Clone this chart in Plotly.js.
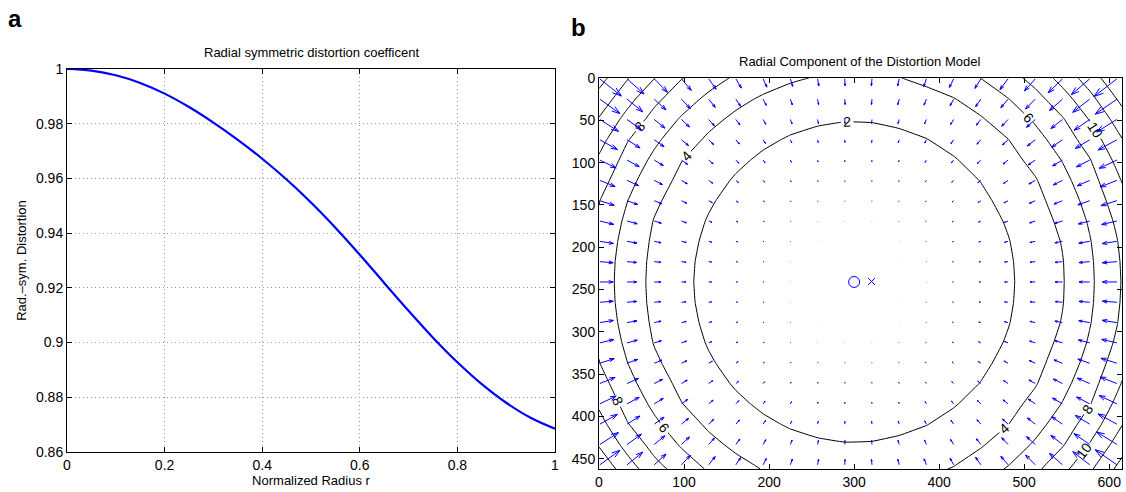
<!DOCTYPE html>
<html><head><meta charset="utf-8">
<script src="https://cdn.plot.ly/plotly-3.0.1.min.js"></script>
<style>html,body{margin:0;padding:0;background:#fff}#chart{width:1126px;height:492px}</style>
</head><body><div id="chart"></div>
<script>
// ---------- panel a data ----------
const radiusNorm = [0, 0.05, 0.1, 0.15, 0.2, 0.25, 0.3, 0.35, 0.4, 0.45, 0.5, 0.55, 0.6, 0.65, 0.7, 0.75, 0.8, 0.85, 0.9, 0.95, 1];
const distCoeff  = [1, 0.9994, 0.9977, 0.9949, 0.9910, 0.9861, 0.9804, 0.9741, 0.9672, 0.9596, 0.9512, 0.9420, 0.9321, 0.9218, 0.9116, 0.9018, 0.8928, 0.8848, 0.8780, 0.8725, 0.8685];
const xTicksA = [0, 0.2, 0.4, 0.6, 0.8, 1];
const yTicksA = [0.86, 0.88, 0.9, 0.92, 0.94, 0.96, 0.98, 1];

// ---------- panel b data ----------
const gridX = [1, 33, 65, 97, 129, 161, 193, 225, 257, 289, 321, 353, 385, 417, 449, 481, 513, 545, 577, 609];
const gridY = [1, 25, 49, 73, 97, 121, 145, 169, 193, 217, 241, 265, 289, 313, 337, 361, 385, 409, 433, 457];
const contourX = [0].concat(gridX, [615]);
const contourY = [0].concat(gridY, [462]);
// radial distortion (pixels) versus distance from the principal point (pixels)
const profileRadius = [0, 50, 100, 150, 190, 220, 248, 283, 314, 336, 358, 377, 400];
const profileShift  = [0, 0.04, 0.3, 0.95, 2, 2.95, 4, 6, 8, 10, 12, 14, 16.3];
const principalPoint = [300, 241];
const imageCenter = [320.5, 240.5];
const contourLevels = {start: 2, end: 14, size: 2};
const xTicksB = [0, 100, 200, 300, 400, 500, 600];
const yTicksB = [0, 50, 100, 150, 200, 250, 300, 350, 400, 450];

function shiftAt(r) {
  for (let i = 1; i < profileRadius.length; i++) {
    if (r <= profileRadius[i]) {
      const t = (r - profileRadius[i-1]) / (profileRadius[i] - profileRadius[i-1]);
      return profileShift[i-1] + t * (profileShift[i] - profileShift[i-1]);
    }
  }
  return profileShift[profileShift.length-1];
}

const zGrid = contourY.map(y => contourX.map(x => shiftAt(Math.hypot(x - principalPoint[0], y - principalPoint[1]))));

// quiver (MATLAB-style autoscale and arrow heads)
const vecs = [];
let maxLen = 0;
gridY.forEach(y => gridX.forEach(x => {
  const dx = x - principalPoint[0], dy = y - principalPoint[1];
  const r = Math.hypot(dx, dy) || 1;
  const s = shiftAt(r);
  const u = -dx / r * s, v = -dy / r * s;
  vecs.push([x, y, u, v]);
  maxLen = Math.max(maxLen, Math.hypot(u, v));
}));
const delx = (gridX[gridX.length-1] - gridX[0]) / gridX.length;
const dely = (gridY[gridY.length-1] - gridY[0]) / gridY.length;
const scale = 0.9 * Math.hypot(delx, dely) / maxLen;
const qx = [], qy = [];
const alpha = 0.33, beta = 0.33;
vecs.forEach(([x, y, u0, v0]) => {
  const u = u0 * scale, v = v0 * scale;
  const tx = x + u, ty = y + v;
  qx.push(x, tx, null);
  qy.push(y, ty, null);
  qx.push(tx - alpha * (u + beta * v), tx, tx - alpha * (u - beta * v), null);
  qy.push(ty - alpha * (v - beta * u), ty, ty - alpha * (v + beta * u), null);
});

const FONT = 'Liberation Sans, Arial, Helvetica, sans-serif';

const traces = [
  {type: 'scatter', mode: 'lines', x: radiusNorm, y: distCoeff, xaxis: 'x', yaxis: 'y',
   line: {color: '#0000ff', width: 2.2, shape: 'spline', smoothing: 1}, hoverinfo: 'skip'},
  {type: 'contour', x: contourX, y: contourY, z: zGrid, xaxis: 'x2', yaxis: 'y2',
   autocontour: false, contours: Object.assign({coloring: 'lines', showlabels: true,
     labelfont: {family: FONT, size: 14, color: 'black'}}, contourLevels),
   colorscale: [[0, 'black'], [1, 'black']], showscale: false,
   line: {width: 1, smoothing: 0.3}, hoverinfo: 'skip'},
  {type: 'scatter', mode: 'lines', x: qx, y: qy, xaxis: 'x2', yaxis: 'y2',
   line: {color: '#0000ff', width: 1}, hoverinfo: 'skip', connectgaps: false},
  {type: 'scatter', mode: 'markers', x: [principalPoint[0]], y: [principalPoint[1]], xaxis: 'x2', yaxis: 'y2',
   marker: {symbol: 'circle-open', size: 11, color: '#0000ff', line: {width: 1}}, hoverinfo: 'skip'},
  {type: 'scatter', mode: 'markers', x: [imageCenter[0]], y: [imageCenter[1]], xaxis: 'x2', yaxis: 'y2',
   marker: {symbol: 'x-thin-open', size: 7, color: '#0000ff', line: {width: 1, color: '#0000ff'}}, hoverinfo: 'skip'}
];

const axBase = {showline: true, linecolor: 'black', linewidth: 1, mirror: 'ticks', ticks: 'inside',
  ticklen: 5, tickwidth: 1, tickcolor: 'black', zeroline: false, fixedrange: true,
  tickfont: {family: FONT, size: 14, color: 'black'}};

const layout = {
  width: 1126, height: 492, margin: {l: 0, r: 0, t: 0, b: 0},
  paper_bgcolor: 'white', plot_bgcolor: 'white', showlegend: false,
  font: {family: FONT, size: 14, color: 'black'},
  xaxis: Object.assign({}, axBase, {domain: [67/1126, 555/1126], range: [0, 1], anchor: 'y',
    tickvals: xTicksA, showgrid: true, gridcolor: '#9a9a9a', gridwidth: 1, griddash: '1px,3px',
    title: {text: 'Normalized Radius r', font: {family: FONT, size: 13}, standoff: 2}}),
  yaxis: Object.assign({}, axBase, {domain: [1 - 452/492, 1 - 69/492], range: [0.86, 1], anchor: 'x',
    tickvals: yTicksA, showgrid: true, gridcolor: '#9a9a9a', gridwidth: 1, griddash: '1px,3px',
    title: {text: 'Rad.\u2013sym. Distortion', font: {family: FONT, size: 13}, standoff: 6}}),
  xaxis2: Object.assign({}, axBase, {domain: [599/1126, 1122/1126], range: [0, 615], anchor: 'y2',
    tickvals: xTicksB, showgrid: false}),
  yaxis2: Object.assign({}, axBase, {domain: [1 - 469/492, 1 - 78/492], range: [462, 0], anchor: 'x2',
    tickvals: yTicksB, showgrid: false}),
  annotations: [
    {text: 'a', xref: 'paper', yref: 'paper', x: 15/1126, y: 1 - 19/492, showarrow: false,
     font: {family: FONT, size: 24, color: 'black', weight: 'bold'}, xanchor: 'center', yanchor: 'middle'},
    {text: 'b', xref: 'paper', yref: 'paper', x: 578/1126, y: 1 - 27/492, showarrow: false,
     font: {family: FONT, size: 24, color: 'black', weight: 'bold'}, xanchor: 'center', yanchor: 'middle'},
    {text: 'Radial symmetric distortion coefficent', xref: 'paper', yref: 'paper', x: 311/1126, y: 1 - 53/492,
     showarrow: false, font: {family: FONT, size: 13, color: 'black'}, xanchor: 'center', yanchor: 'middle'},
    {text: 'Radial Component of the Distortion Model', xref: 'paper', yref: 'paper', x: 860/1126, y: 1 - 62/492,
     showarrow: false, font: {family: FONT, size: 13, color: 'black'}, xanchor: 'center', yanchor: 'middle'}
  ]
};

Plotly.newPlot('chart', traces, layout, {staticPlot: true, displayModeBar: false});
</script>
</body></html>
